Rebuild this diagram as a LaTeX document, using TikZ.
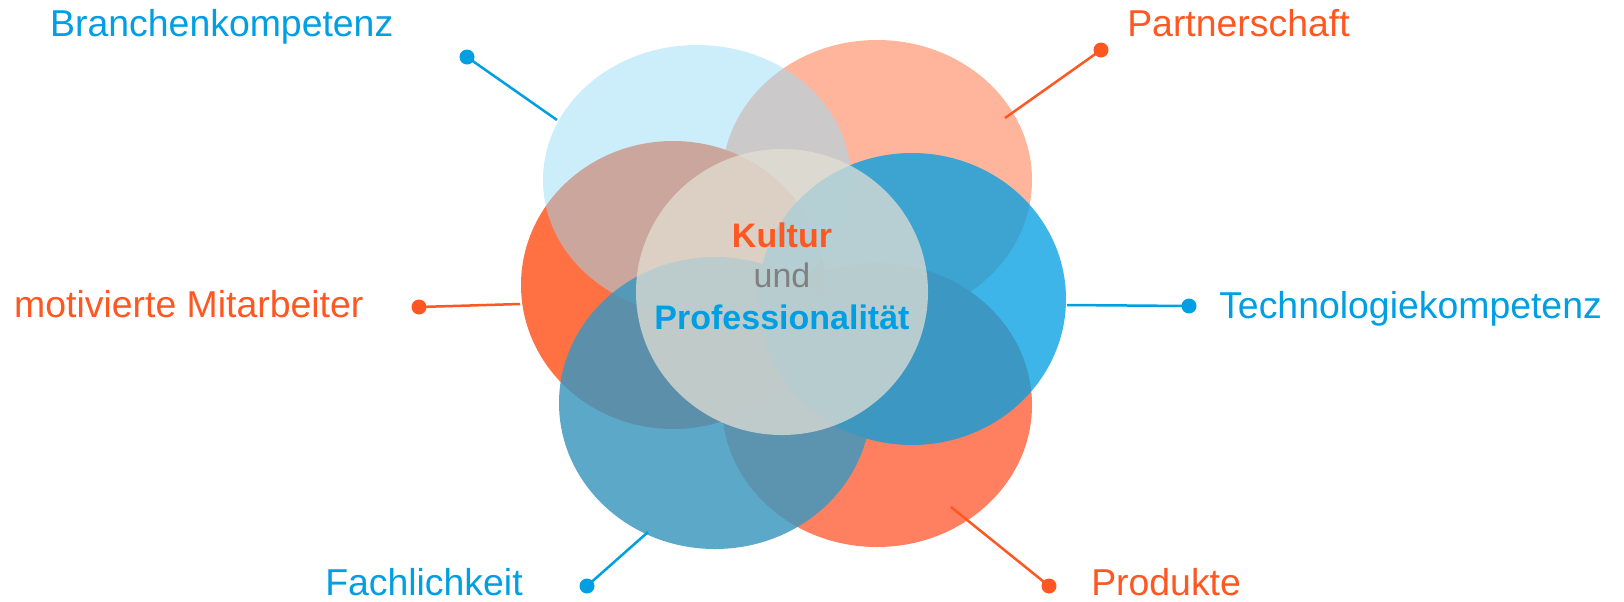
\documentclass[tikz,border=0pt]{standalone}
\usepackage{fontspec}
\setmainfont{Liberation Sans}

\definecolor{kblue}{HTML}{009FE3}
\definecolor{korange}{HTML}{FF5722}
\definecolor{kgray}{HTML}{808080}
\definecolor{skyfill}{HTML}{99DDF7}
\definecolor{salmonfill}{HTML}{FFB59C}
\definecolor{leftfill}{HTML}{FF7043}
\definecolor{rightfill}{HTML}{FF8060}
\definecolor{bluefill}{HTML}{039FE1}
\definecolor{steelfill}{HTML}{3D97BE}
\definecolor{corefill}{HTML}{E2DFD4}

\begin{document}
\begin{tikzpicture}[x=0.5pt, y=-0.5pt, line width=1.25pt,
  lbl/.style={inner sep=0pt, anchor=base west, font=\fontsize{18.7}{22}\selectfont},
  core/.style={inner sep=0pt, anchor=base, font=\fontsize{17}{20}\selectfont},
  pindot/.style={circle, fill, inner sep=0pt, minimum size=7.5pt}]

\useasboundingbox (0,0) rectangle (1624,601);

% Centres of the petals and of the core
\coordinate (O) at (782,292);

\coordinate (S) at (877,180);
\coordinate (O2) at (877,405);
\coordinate (O1) at (673,285);
\coordinate (LB) at (697,180);
\coordinate (B) at (912,299);
\coordinate (SB) at (715,403);

% Petals, back to front, the core last
\foreach \i/\c/\a/\b/\o in {S/salmonfill/155/140/1, O2/rightfill/155/142/1,
    O1/leftfill/152/144/1, LB/skyfill/154/135/0.5, B/bluefill/154/146/0.77,
    SB/steelfill/156/146/0.84, O/corefill/146/143/0.74} {
  \fill[\c, fill opacity=\o] (\i) ellipse [x radius=\a*0.5pt, y radius=\b*0.5pt];
}

% Text in the core
\node[core, korange] (kul) at (782,247) {\bfseries Kultur};
\node[core, kgray] (und) at (782,287) {und};
\node[core, kblue] (prof) at (782,329) {\bfseries Professionalität};

% Labels round the flower
\node[lbl, kblue] (brk) at (49,36) {Branchenkompetenz};
\node[lbl, korange] (part) at (1126,36) {Partnerschaft};
\node[lbl, korange] (mit) at (13,317) {motivierte Mitarbeiter};
\node[lbl, kblue] (tech) at (1218,318) {Technologiekompetenz};
\node[lbl, kblue] (fach) at (324,595) {Fachlichkeit};
\node[lbl, korange] (prod) at (1090,595) {Produkte};

% Pointer heads next to the labels
\node[pindot, kblue] (dbrk) at (467,57) {};
\node[pindot, korange] (dpart) at (1101,50) {};
\node[pindot, korange] (dmit) at (419,307) {};
\node[pindot, kblue] (dtech) at (1189,306) {};
\node[pindot, kblue] (dfach) at (587,586) {};
\node[pindot, korange] (dprod) at (1049,586) {};

% Pointer ends on the petals
\coordinate (ebrk) at (557,120);
\coordinate (epart) at (1005,118);
\coordinate (emit) at (520,304);
\coordinate (etech) at (1067,305);
\coordinate (efach) at (648,532);
\coordinate (eprod) at (951,507);

\foreach \i/\c in {brk/kblue, part/korange, mit/korange, tech/kblue, fach/kblue, prod/korange} {
  \draw[\c] (d\i.center) -- (e\i);
}

\end{tikzpicture}
\end{document}
